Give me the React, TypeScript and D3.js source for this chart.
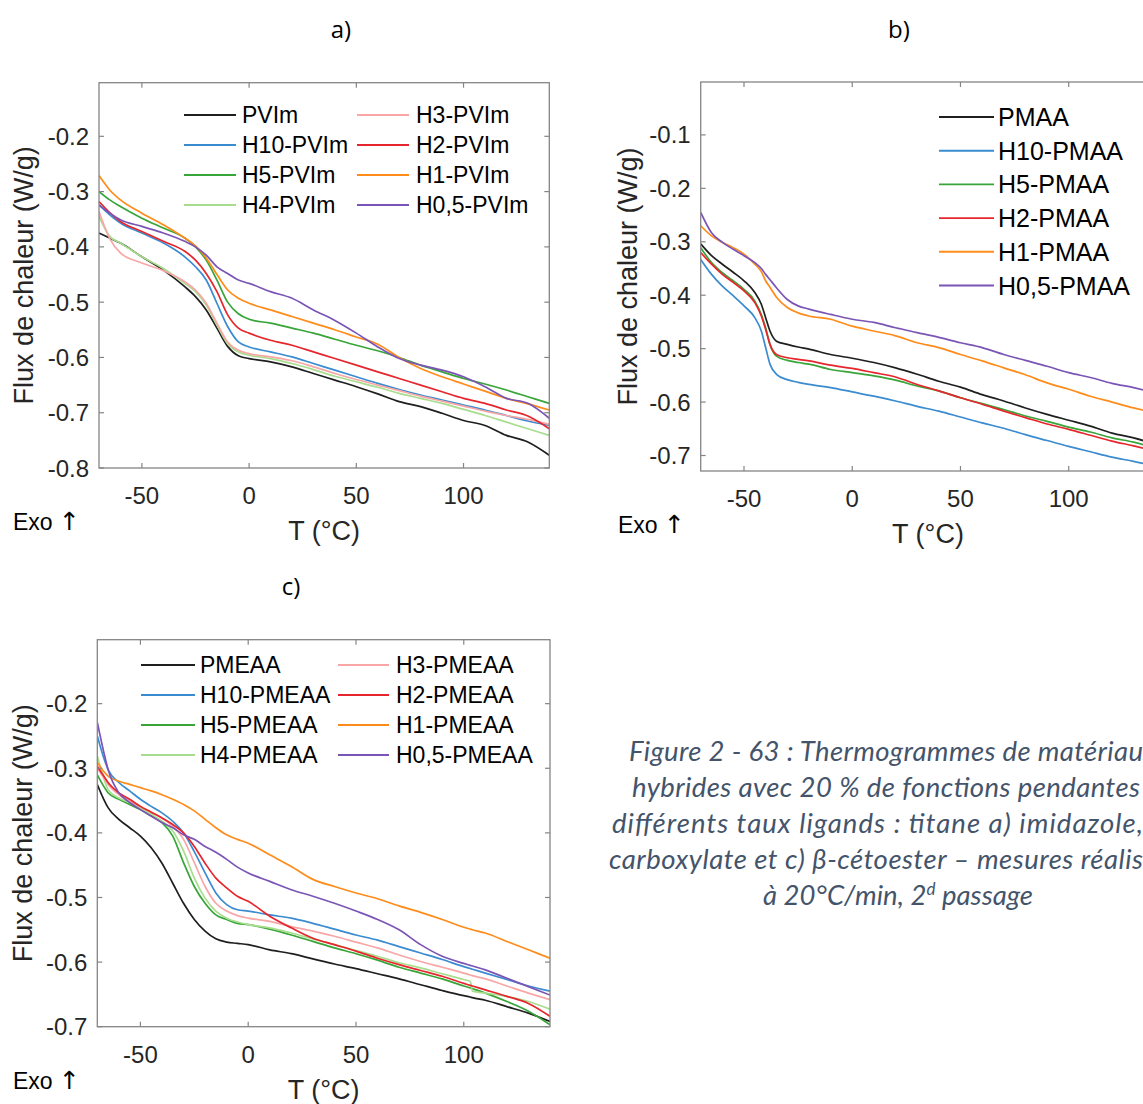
import React from 'react';
import * as d3 from 'd3';

// ---------------- DATA ----------------
const X_DOMAIN: [number, number] = [-70, 140];
const X_TICKS = [-50, 0, 50, 100];
const X_TICK_LABELS = ['-50', '0', '50', '100'];

// Panel a) imidazole
const TEMP_A = [-70, -65, -60, -50, -40, -30, -25, -20, -15, -10, -5, 0, 10, 20, 30, 40, 50, 60, 70, 80, 90, 100, 110, 120, 130, 140];
const A_PVIm = [-0.375, -0.384, -0.393, -0.418, -0.442, -0.472, -0.49, -0.514, -0.547, -0.58, -0.597, -0.602, -0.608, -0.617, -0.629, -0.641, -0.653, -0.666, -0.68, -0.689, -0.701, -0.714, -0.723, -0.741, -0.753, -0.777];
const A_H10 = [-0.324, -0.342, -0.357, -0.375, -0.393, -0.418, -0.436, -0.46, -0.502, -0.544, -0.572, -0.581, -0.59, -0.599, -0.611, -0.623, -0.635, -0.647, -0.658, -0.668, -0.677, -0.686, -0.695, -0.705, -0.715, -0.723];
const A_H5 = [-0.3, -0.315, -0.327, -0.348, -0.366, -0.384, -0.4, -0.424, -0.46, -0.5, -0.521, -0.531, -0.538, -0.547, -0.556, -0.567, -0.578, -0.588, -0.6, -0.614, -0.626, -0.638, -0.648, -0.659, -0.671, -0.683];
const A_H4 = [-0.345, -0.381, -0.393, -0.418, -0.439, -0.466, -0.481, -0.505, -0.541, -0.575, -0.59, -0.596, -0.602, -0.611, -0.622, -0.634, -0.644, -0.654, -0.665, -0.674, -0.683, -0.694, -0.705, -0.717, -0.729, -0.741];
const A_H3 = [-0.336, -0.385, -0.411, -0.429, -0.443, -0.463, -0.478, -0.502, -0.538, -0.572, -0.587, -0.593, -0.599, -0.606, -0.617, -0.629, -0.64, -0.65, -0.66, -0.67, -0.679, -0.688, -0.697, -0.705, -0.712, -0.721];
const A_H2 = [-0.318, -0.338, -0.354, -0.372, -0.39, -0.408, -0.424, -0.448, -0.481, -0.523, -0.547, -0.556, -0.569, -0.578, -0.59, -0.602, -0.614, -0.626, -0.638, -0.65, -0.662, -0.674, -0.683, -0.695, -0.706, -0.729];
const A_H1 = [-0.271, -0.297, -0.315, -0.339, -0.36, -0.384, -0.398, -0.42, -0.45, -0.478, -0.493, -0.502, -0.514, -0.526, -0.538, -0.55, -0.563, -0.576, -0.6, -0.62, -0.635, -0.648, -0.661, -0.674, -0.684, -0.695];
const A_H05 = [-0.324, -0.339, -0.351, -0.363, -0.375, -0.39, -0.4, -0.415, -0.436, -0.448, -0.46, -0.466, -0.481, -0.493, -0.514, -0.533, -0.556, -0.581, -0.602, -0.614, -0.623, -0.635, -0.653, -0.674, -0.683, -0.71];
const NAMES_A = ['PVIm', 'H10-PVIm', 'H5-PVIm', 'H4-PVIm', 'H3-PVIm', 'H2-PVIm', 'H1-PVIm', 'H0,5-PVIm'];
const Y_TICKS_A = [-0.8, -0.7, -0.6, -0.5, -0.4, -0.3, -0.2];
const Y_TICK_LABELS_A = ['-0.8', '-0.7', '-0.6', '-0.5', '-0.4', '-0.3', '-0.2'];

// Panel b) carboxylate
const TEMP_B = [-70, -65, -60, -55, -50, -45, -42, -40, -38, -35, -30, -25, -20, -10, 0, 10, 20, 30, 40, 50, 60, 70, 80, 90, 100, 110, 120, 130, 140];
const B_PMAA = [-0.304, -0.326, -0.342, -0.357, -0.373, -0.395, -0.417, -0.442, -0.467, -0.486, -0.492, -0.497, -0.501, -0.511, -0.518, -0.526, -0.536, -0.548, -0.561, -0.572, -0.586, -0.598, -0.611, -0.623, -0.634, -0.645, -0.658, -0.667, -0.679];
const B_H10 = [-0.333, -0.361, -0.383, -0.401, -0.42, -0.442, -0.467, -0.498, -0.529, -0.548, -0.558, -0.563, -0.567, -0.573, -0.581, -0.589, -0.598, -0.608, -0.617, -0.628, -0.639, -0.649, -0.661, -0.672, -0.683, -0.693, -0.703, -0.711, -0.72];
const B_H5 = [-0.311, -0.339, -0.358, -0.373, -0.389, -0.411, -0.436, -0.461, -0.492, -0.514, -0.522, -0.526, -0.529, -0.539, -0.545, -0.551, -0.559, -0.57, -0.579, -0.592, -0.603, -0.614, -0.626, -0.636, -0.647, -0.656, -0.667, -0.675, -0.686];
const B_H2 = [-0.32, -0.342, -0.361, -0.376, -0.392, -0.414, -0.439, -0.464, -0.492, -0.511, -0.517, -0.52, -0.523, -0.531, -0.537, -0.545, -0.553, -0.567, -0.579, -0.592, -0.604, -0.617, -0.629, -0.641, -0.651, -0.662, -0.673, -0.682, -0.692];
const B_H1 = [-0.27, -0.289, -0.301, -0.311, -0.323, -0.342, -0.356, -0.373, -0.385, -0.404, -0.423, -0.433, -0.439, -0.445, -0.458, -0.467, -0.476, -0.489, -0.498, -0.511, -0.523, -0.536, -0.549, -0.564, -0.576, -0.589, -0.6, -0.611, -0.62];
const B_H05 = [-0.245, -0.283, -0.301, -0.314, -0.326, -0.339, -0.35, -0.361, -0.371, -0.386, -0.408, -0.42, -0.426, -0.436, -0.445, -0.451, -0.461, -0.47, -0.479, -0.489, -0.498, -0.511, -0.522, -0.533, -0.545, -0.554, -0.565, -0.573, -0.583];
const NAMES_B = ['PMAA', 'H10-PMAA', 'H5-PMAA', 'H2-PMAA', 'H1-PMAA', 'H0,5-PMAA'];
const Y_TICKS_B = [-0.7, -0.6, -0.5, -0.4, -0.3, -0.2, -0.1];
const Y_TICK_LABELS_B = ['-0.7', '-0.6', '-0.5', '-0.4', '-0.3', '-0.2', '-0.1'];

// Panel c) beta-cetoester
const TEMP_C = [-70, -67, -65, -60, -55, -50, -45, -40, -35, -30, -25, -20, -15, -10, -5, 0, 10, 20, 30, 40, 50, 60, 70, 80, 90, 100, 103, 104, 110, 120, 130, 140];
const C_PMEAA = [-0.325, -0.348, -0.361, -0.379, -0.392, -0.405, -0.423, -0.447, -0.478, -0.509, -0.534, -0.552, -0.564, -0.569, -0.571, -0.573, -0.581, -0.587, -0.595, -0.603, -0.61, -0.618, -0.626, -0.635, -0.644, -0.652, -0.654, -0.655, -0.659, -0.669, -0.679, -0.692];
const C_H10 = [-0.25, -0.284, -0.302, -0.322, -0.335, -0.348, -0.359, -0.369, -0.382, -0.4, -0.429, -0.462, -0.493, -0.511, -0.519, -0.521, -0.527, -0.532, -0.54, -0.549, -0.558, -0.566, -0.576, -0.586, -0.596, -0.607, -0.61, -0.611, -0.617, -0.627, -0.637, -0.645];
const C_H5 = [-0.31, -0.328, -0.338, -0.348, -0.356, -0.364, -0.374, -0.384, -0.405, -0.446, -0.483, -0.509, -0.527, -0.534, -0.54, -0.542, -0.549, -0.558, -0.568, -0.578, -0.587, -0.597, -0.608, -0.617, -0.626, -0.637, -0.64, -0.641, -0.648, -0.661, -0.676, -0.697];
const C_H4 = [-0.281, -0.315, -0.333, -0.346, -0.353, -0.361, -0.371, -0.382, -0.397, -0.428, -0.47, -0.501, -0.521, -0.532, -0.538, -0.542, -0.547, -0.555, -0.564, -0.573, -0.582, -0.591, -0.601, -0.609, -0.618, -0.627, -0.63, -0.645, -0.648, -0.653, -0.661, -0.673];
const C_H3 = [-0.3, -0.315, -0.325, -0.341, -0.351, -0.359, -0.368, -0.377, -0.39, -0.41, -0.446, -0.483, -0.509, -0.521, -0.528, -0.532, -0.537, -0.545, -0.552, -0.56, -0.569, -0.578, -0.589, -0.599, -0.608, -0.617, -0.62, -0.621, -0.626, -0.637, -0.648, -0.658];
const C_H2 = [-0.297, -0.312, -0.322, -0.338, -0.348, -0.359, -0.368, -0.377, -0.387, -0.4, -0.421, -0.447, -0.47, -0.485, -0.498, -0.506, -0.529, -0.547, -0.563, -0.573, -0.583, -0.594, -0.604, -0.613, -0.622, -0.633, -0.636, -0.637, -0.643, -0.653, -0.664, -0.684];
const C_H1 = [-0.291, -0.305, -0.312, -0.32, -0.325, -0.33, -0.335, -0.341, -0.348, -0.356, -0.366, -0.379, -0.392, -0.403, -0.41, -0.416, -0.434, -0.452, -0.472, -0.483, -0.493, -0.502, -0.513, -0.523, -0.534, -0.546, -0.549, -0.55, -0.555, -0.568, -0.581, -0.594];
const C_H05 = [-0.229, -0.275, -0.302, -0.338, -0.353, -0.364, -0.374, -0.384, -0.392, -0.403, -0.41, -0.421, -0.43, -0.441, -0.453, -0.462, -0.475, -0.488, -0.498, -0.509, -0.521, -0.534, -0.55, -0.573, -0.591, -0.602, -0.605, -0.606, -0.612, -0.625, -0.638, -0.651];
const NAMES_C = ['PMEAA', 'H10-PMEAA', 'H5-PMEAA', 'H4-PMEAA', 'H3-PMEAA', 'H2-PMEAA', 'H1-PMEAA', 'H0,5-PMEAA'];
const Y_TICKS_C = [-0.7, -0.6, -0.5, -0.4, -0.3, -0.2];
const Y_TICK_LABELS_C = ['-0.7', '-0.6', '-0.5', '-0.4', '-0.3', '-0.2'];

// Caption: [visible part, remainder beyond the page edge]
const CAPTION_LINES: [string, string][] = [
  ['Figure 2 - 63 : Thermogrammes de matériau', 'x'],
  ['hybrides avec 20 % de fonctions pendantes', 'et'],
  ['différents taux ligands : titane a) imidazole,', 'b)'],
  ['carboxylate et c) β-cétoester – mesures réalis', 'ées'],
];

// ---------------- STYLE ----------------
const C = {
  black: '#1f1f1f',
  blue: '#3a8bd0',
  green: '#38a538',
  lightgreen: '#a8dd8e',
  pink: '#f8a6a6',
  red: '#e6262d',
  orange: '#ff8c1a',
  purple: '#7b55b6',
};
const FONT = "'Liberation Sans', Arial, Helvetica, sans-serif";
const AXIS_GREY = '#858585';
const TEXT = '#262626';

type Series = { name: string; color: string; values: number[] };

type LegendCfg = {
  cols: { x0: number; x1: number; tx: number }[];
  y0: number;
  dy: number;
  perCol: number;
  fontSize: number;
};

type PanelProps = {
  id: string;
  left: number;
  right: number;
  top: number;
  bottom: number;
  yDomain: [number, number];
  yTicks: number[];
  yTickLabels: string[];
  temps: number[];
  series: Series[];
  legend: LegendCfg;
  title: string;
  titleX: number;
  titleY: number;
  yLabelX: number;
  exoX: number;
};

function Panel(p: PanelProps) {
  const x = d3.scaleLinear().domain(X_DOMAIN).range([p.left, p.right]);
  const y = d3.scaleLinear().domain(p.yDomain).range([p.bottom, p.top]);
  const line = d3
    .line<number>()
    .x((_, i) => x(p.temps[i]))
    .y((d) => y(d))
    .curve(d3.curveMonotoneX);
  const tl = 5;
  const cx = (p.left + p.right) / 2;
  const cy = (p.top + p.bottom) / 2;
  return (
    <g>
      <defs>
        <clipPath id={`clip-${p.id}`}>
          <rect x={p.left} y={p.top} width={p.right - p.left} height={p.bottom - p.top} />
        </clipPath>
      </defs>
      <text x={p.titleX} y={p.titleY} fontSize={24} textAnchor="middle" fill="#000" fontFamily="'Open Sans', 'Noto Sans', sans-serif">
        {p.title}
      </text>
      <g clipPath={`url(#clip-${p.id})`}>
        {p.series.map((s) => (
          <path key={s.name} d={line(s.values) || ''} fill="none" stroke={s.color} strokeWidth={1.7} strokeLinejoin="round" />
        ))}
      </g>
      <rect x={p.left} y={p.top} width={p.right - p.left} height={p.bottom - p.top} fill="none" stroke={AXIS_GREY} strokeWidth={1.3} />
      {X_TICKS.map((t, i) => (
        <g key={`xt${t}`}>
          <line x1={x(t)} x2={x(t)} y1={p.bottom} y2={p.bottom - tl} stroke={AXIS_GREY} strokeWidth={1.2} />
          <line x1={x(t)} x2={x(t)} y1={p.top} y2={p.top + tl} stroke={AXIS_GREY} strokeWidth={1.2} />
          <text x={x(t)} y={p.bottom + 36} fontSize={24} textAnchor="middle" fill={TEXT} fontFamily={FONT}>
            {X_TICK_LABELS[i]}
          </text>
        </g>
      ))}
      {p.yTicks.map((t, i) => (
        <g key={`yt${t}`}>
          <line x1={p.left} x2={p.left + tl} y1={y(t)} y2={y(t)} stroke={AXIS_GREY} strokeWidth={1.2} />
          <line x1={p.right} x2={p.right - tl} y1={y(t)} y2={y(t)} stroke={AXIS_GREY} strokeWidth={1.2} />
          <text x={p.left - 10} y={y(t) + 8.5} fontSize={24} textAnchor="end" fill={TEXT} fontFamily={FONT}>
            {p.yTickLabels[i]}
          </text>
        </g>
      ))}
      <text x={cx} y={p.bottom + 72} fontSize={27} textAnchor="middle" fill={TEXT} fontFamily={FONT}>
        T (°C)
      </text>
      <text transform={`translate(${p.yLabelX},${cy}) rotate(-90)`} fontSize={27} textAnchor="middle" fill={TEXT} fontFamily={FONT}>
        Flux de chaleur (W/g)
      </text>
      <text x={p.exoX} y={p.bottom + 62} fontSize={23} fill="#000" fontFamily={FONT}>
        Exo{' '}
        <tspan fontFamily="'DejaVu Sans', sans-serif" fontSize={25}>
          ↑
        </tspan>
      </text>
      {p.series.map((s, i) => {
        const col = p.legend.cols[Math.floor(i / p.legend.perCol)];
        const ly = p.legend.y0 + (i % p.legend.perCol) * p.legend.dy;
        return (
          <g key={`lg${s.name}`}>
            <line x1={col.x0} x2={col.x1} y1={ly} y2={ly} stroke={s.color} strokeWidth={1.9} />
            <text x={col.tx} y={ly + p.legend.fontSize * 0.36} fontSize={p.legend.fontSize} fill="#000" fontFamily={FONT}>
              {s.name}
            </text>
          </g>
        );
      })}
    </g>
  );
}

const COLORS_8 = [C.black, C.blue, C.green, C.lightgreen, C.pink, C.red, C.orange, C.purple];
const COLORS_6 = [C.black, C.blue, C.green, C.red, C.orange, C.purple];

const SERIES_A: Series[] = [A_PVIm, A_H10, A_H5, A_H4, A_H3, A_H2, A_H1, A_H05].map((v, i) => ({ name: NAMES_A[i], color: COLORS_8[i], values: v }));
const SERIES_B: Series[] = [B_PMAA, B_H10, B_H5, B_H2, B_H1, B_H05].map((v, i) => ({ name: NAMES_B[i], color: COLORS_6[i], values: v }));
const SERIES_C: Series[] = [C_PMEAA, C_H10, C_H5, C_H4, C_H3, C_H2, C_H1, C_H05].map((v, i) => ({ name: NAMES_C[i], color: COLORS_8[i], values: v }));

export default function App() {
  const capStarts = [629, 632, 612, 609];
  const capEnds = [1143, 1140, 1143, 1143];
  const capGaps = [1, 8, 8, 0];
  const capY0 = 761;
  const capDy = 36;
  const capStyle = { fontFamily: "Lato, 'Open Sans', sans-serif", fontStyle: 'italic' as const, fontSize: 27.5, fill: '#44546A' };
  return (
    <svg width={1143} height={1104} viewBox="0 0 1143 1104" style={{ position: 'absolute', left: 0, top: 0, display: 'block' }}>
      <rect x={0} y={0} width={1143} height={1104} fill="#fff" />
      <Panel
        id="a"
        left={99}
        right={549.3}
        top={82.7}
        bottom={468}
        yDomain={[-0.8, -0.103]}
        yTicks={Y_TICKS_A}
        yTickLabels={Y_TICK_LABELS_A}
        temps={TEMP_A}
        series={SERIES_A}
        legend={{ cols: [{ x0: 184, x1: 236, tx: 242 }, { x0: 357, x1: 409, tx: 416 }], y0: 115, dy: 30, perCol: 4, fontSize: 23 }}
        title="a)"
        titleX={341}
        titleY={38}
        yLabelX={33}
        exoX={13}
      />
      <Panel
        id="b"
        left={700.7}
        right={1155.3}
        top={82}
        bottom={471}
        yDomain={[-0.729, -0.001]}
        yTicks={Y_TICKS_B}
        yTickLabels={Y_TICK_LABELS_B}
        temps={TEMP_B}
        series={SERIES_B}
        legend={{ cols: [{ x0: 939, x1: 994, tx: 998 }], y0: 117, dy: 33.7, perCol: 6, fontSize: 25 }}
        title="b)"
        titleX={899}
        titleY={38}
        yLabelX={637}
        exoX={618}
      />
      <Panel
        id="c"
        left={97.3}
        right={550}
        top={639.7}
        bottom={1026.7}
        yDomain={[-0.7, -0.101]}
        yTicks={Y_TICKS_C}
        yTickLabels={Y_TICK_LABELS_C}
        temps={TEMP_C}
        series={SERIES_C}
        legend={{ cols: [{ x0: 141, x1: 195, tx: 200 }, { x0: 338, x1: 389, tx: 396 }], y0: 665, dy: 30, perCol: 4, fontSize: 23 }}
        title="c)"
        titleX={291}
        titleY={595}
        yLabelX={32}
        exoX={13}
      />
      {CAPTION_LINES.map(([vis, rest], i) => {
        const sx = capStarts[i];
        const w = capEnds[i] - sx;
        return (
          <g key={i}>
            <text x={sx} y={capY0 + i * capDy} textLength={w} lengthAdjust="spacing" style={capStyle}>
              {vis}
            </text>
            <text x={sx + w + capGaps[i]} y={capY0 + i * capDy} style={capStyle}>
              {rest}
            </text>
          </g>
        );
      })}
      <text x={763} y={capY0 + 4 * capDy} textLength={270} lengthAdjust="spacing" style={capStyle}>
        à 20°C/min, 2<tspan dy={-10} fontSize={17}>d</tspan>
        <tspan dy={10}> passage</tspan>
      </text>
    </svg>
  );
}
